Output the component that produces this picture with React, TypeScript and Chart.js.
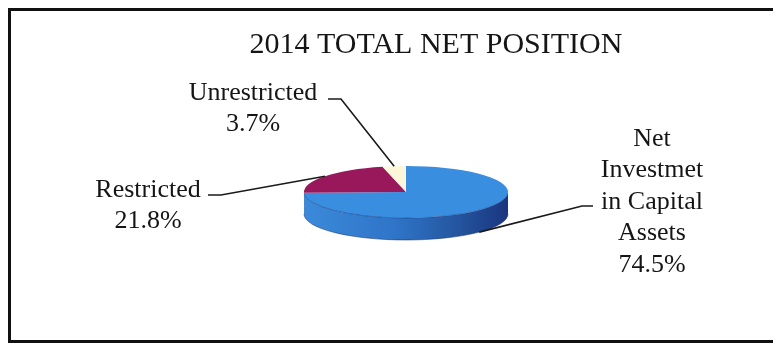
import React, { useEffect, useRef } from "react";
import { Chart, registerables } from "chart.js";

Chart.register(...registerables);

// ---- data ----
const titleText = "2014 TOTAL NET POSITION";
const categories = ["Net Investmet in Capital Assets", "Restricted", "Unrestricted"];
const labelLines = [["Net", "Investmet", "in Capital", "Assets"], ["Restricted"], ["Unrestricted"]];
const shares = [74.5, 21.8, 3.7];

// ---- style ----
const topColors = ["#3a8ee0", "#98185b", "#fcf7d8"];
const sideStops = [
  ["#3b8ad9", "#2f74c8", "#24569f", "#1a3580"],
  ["#7d1049", "#6a0c3e", "#5a0a34", "#4a082b"],
  ["#d8d2b0", "#cfc8a4", "#c4bd98", "#b8b08a"],
];
const FONT = "'Liberation Serif', 'Times New Roman', serif";
const PIE = { cx: 395, cy: 181, tilt: 0.255, depth: 22, radius: 102 };
// label placement per slice: text centre x, first baseline, line height, elbow [xNearText, xFar, y], anchor on front (side bottom) or top
const labelPlace = [
  { x: 641, y: 134.5, lh: 31.5, elbow: [582, 571, 195], front: true },
  { x: 137, y: 186, lh: 31, elbow: [197, 210, 184], front: false },
  { x: 242, y: 89, lh: 31, elbow: [317, 330, 88], front: false },
];

const pie3d = {
  id: "pie3d",
  beforeDatasetsDraw(chart: any) {
    const ctx = chart.ctx;
    const meta = chart.getDatasetMeta(0);
    if (!meta.data.length) return;
    const a0 = meta.data[0] as any;
    const rx = a0.outerRadius;
    const ry = rx * PIE.tilt;
    const tx = PIE.cx, ty = PIE.cy;
    // side walls (front half only)
    meta.data.forEach((arc: any, i: number) => {
      const s = arc.startAngle, e = arc.endAngle;
      const ranges: [number, number][] = [];
      for (const base of [-Math.PI * 2, 0, Math.PI * 2]) {
        const lo = Math.max(s, base), hi = Math.min(e, base + Math.PI);
        if (hi > lo) ranges.push([lo, hi]);
      }
      ranges.forEach(([lo, hi]) => {
        const g = ctx.createLinearGradient(tx - rx, 0, tx + rx, 0);
        const st = sideStops[i];
        g.addColorStop(0, st[0]);
        g.addColorStop(0.45, st[1]);
        g.addColorStop(0.75, st[2]);
        g.addColorStop(1, st[3]);
        ctx.save();
        ctx.beginPath();
        ctx.ellipse(tx, ty, rx, ry, 0, lo, hi, false);
        ctx.ellipse(tx, ty + PIE.depth, rx, ry, 0, hi, lo, true);
        ctx.closePath();
        ctx.fillStyle = g;
        ctx.fill();
        ctx.restore();
      });
    });
    ctx.save();
    ctx.beginPath();
    ctx.ellipse(tx, ty + PIE.depth, rx, ry, 0, 0, Math.PI, false);
    ctx.strokeStyle = "rgba(20,40,100,0.5)";
    ctx.lineWidth = 1;
    ctx.stroke();
    ctx.restore();
    // transform for the elliptical top face
    ctx.save();
    ctx.translate(tx, ty);
    ctx.scale(1, PIE.tilt);
    ctx.translate(-a0.x, -a0.y);
  },
  afterDatasetsDraw(chart: any) {
    const ctx = chart.ctx;
    ctx.restore();
    const meta = chart.getDatasetMeta(0);
    if (!meta.data.length) return;
    const a0 = meta.data[0] as any;
    const rx = a0.outerRadius;
    const ry = rx * PIE.tilt;
    const tx = PIE.cx, ty = PIE.cy;
    ctx.save();
    ctx.beginPath();
    ctx.ellipse(tx, ty, rx, ry, 0, 0.05, Math.PI - 0.05, false);
    ctx.strokeStyle = "rgba(25,60,130,0.55)";
    ctx.lineWidth = 1;
    ctx.stroke();
    ctx.restore();
    // labels with leader lines
    meta.data.forEach((arc: any, i: number) => {
      const m = (arc.startAngle + arc.endAngle) / 2;
      const ax = tx + rx * Math.cos(m);
      let ay = ty + ry * Math.sin(m);
      const p = labelPlace[i];
      if (p.front) ay += PIE.depth;
      ctx.save();
      ctx.strokeStyle = "#1a1a1a";
      ctx.lineWidth = 1.6;
      ctx.beginPath();
      ctx.moveTo(p.elbow[0], p.elbow[2]);
      ctx.lineTo(p.elbow[1], p.elbow[2]);
      ctx.lineTo(ax, ay);
      ctx.stroke();
      ctx.fillStyle = "#151515";
      ctx.font = `26px ${FONT}`;
      ctx.textAlign = "center";
      ctx.textBaseline = "alphabetic";
      const lines = [...labelLines[i], `${shares[i].toFixed(1)}%`];
      lines.forEach((t, k) => ctx.fillText(t, p.x, p.y + k * p.lh));
      ctx.restore();
    });
  },
};

export default function App() {
  const ref = useRef<HTMLCanvasElement | null>(null);
  useEffect(() => {
    if (!ref.current) return;
    const chart = new Chart(ref.current, {
      type: "pie",
      data: {
        labels: categories,
        datasets: [
          {
            data: shares,
            backgroundColor: topColors,
            borderWidth: 0,
            radius: PIE.radius,
            clip: false,
          } as any,
        ],
      },
      options: {
        responsive: false,
        animation: false,
        layout: { padding: 0 },
        plugins: {
          legend: { display: false },
          tooltip: { enabled: false },
          title: {
            display: true,
            text: titleText,
            color: "#151515",
            font: { family: FONT, size: 30, weight: "normal" as any },
            padding: { top: 16, bottom: 10 },
          },
        },
      },
      plugins: [pie3d as any],
    });
    return () => chart.destroy();
  }, []);
  return (
    <div
      style={{
        width: 770,
        height: 329,
        overflow: "hidden",
        borderLeft: "3px solid #111",
        borderTop: "3px solid #111",
        borderBottom: "3px solid #111",
        background: "#fff",
      }}
    >
      <canvas ref={ref} width={850} height={329} style={{ display: "block" }} />
    </div>
  );
}
